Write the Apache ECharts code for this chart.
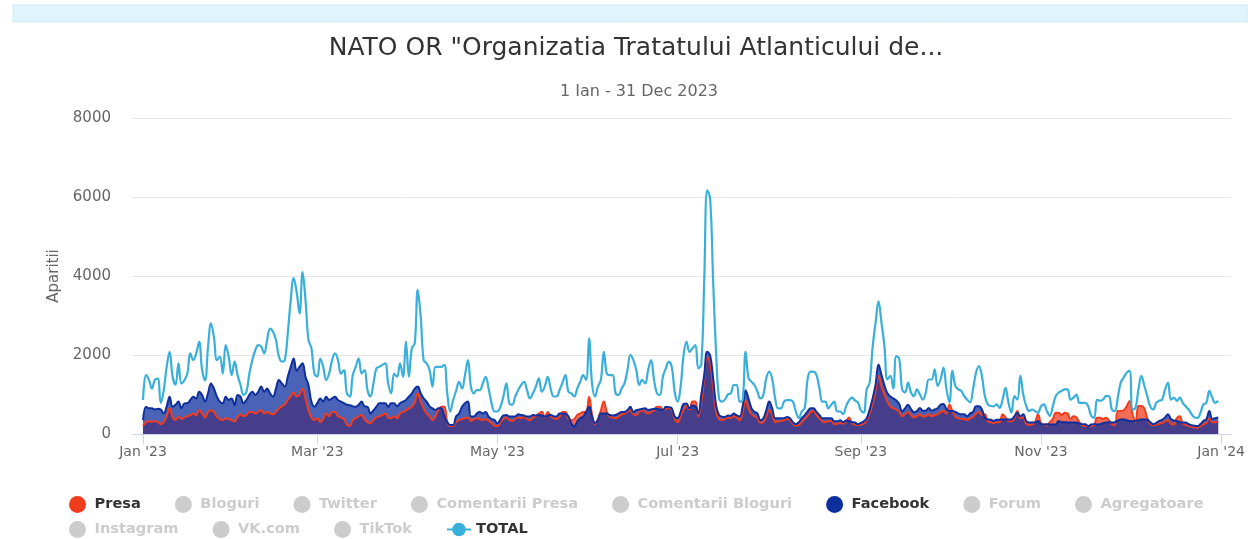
<!DOCTYPE html>
<html>
<head>
<meta charset="utf-8">
<title>NATO - aparitii 2023</title>
<script src="https://cdn.jsdelivr.net/npm/echarts@6/dist/echarts.min.js"></script>
<style>
  html, body { margin: 0; padding: 0; background: #fff; }
  #chart { width: 1248px; height: 539px; }
</style>
</head>
<body>
<div id="chart"></div>
<script>
// daily values, 1 Jan - 31 Dec 2023 (index 0 = 1 Jan)
const presa = [
  200,300,320,310,330,300,250,300,450,650,420,350,440,380,420,450,480,520,470,600,520,420,560,600,560,440,380,350,400,380,350,
  320,430,500,450,480,560,560,520,560,600,520,560,520,500,560,650,700,750,860,960,1050,950,1000,1150,900,600,420,350,
  400,300,380,520,450,560,560,450,420,380,240,200,350,400,450,480,380,300,280,350,420,450,480,520,420,400,450,400,520,560,600,
  650,690,800,1030,820,650,520,450,350,450,600,690,690,300,200,200,300,350,380,400,420,330,380,400,380,350,380,330,280,210,
  200,300,380,420,350,330,380,420,400,430,380,350,420,450,520,565,420,560,450,400,380,440,560,560,380,350,380,480,520,560,560,
  945,500,250,380,600,820,560,440,420,400,440,500,520,560,600,500,480,560,600,560,520,560,600,690,690,620,640,660,620,380,
  300,450,620,700,620,820,820,450,800,1400,1950,1800,1200,550,380,350,380,420,400,450,420,350,550,850,650,500,450,400,280,300,450,
  600,500,300,320,330,350,380,350,260,210,230,300,380,450,560,580,480,400,320,300,330,330,250,260,280,260,320,420,280,240,220,
  240,260,350,520,750,1100,1470,1200,1000,820,700,650,620,560,450,500,560,480,420,450,500,440,450,500,450,480,500,560,580,520,
  750,580,440,400,380,380,350,400,430,520,560,480,500,320,300,270,300,300,500,420,330,320,400,580,400,420,260,230,240,300,500,
  280,240,220,300,380,540,540,480,540,520,380,450,420,300,220,200,200,200,220,410,410,380,410,350,250,220,580,580,600,700,
  835,500,300,710,710,650,400,260,220,240,260,280,320,350,260,240,400,450,260,230,200,180,170,160,200,250,280,400,300,300,330
];
const facebook = [
  355,690,650,650,620,640,620,520,700,945,690,740,820,650,775,780,860,945,900,1070,990,820,1030,1280,1150,945,820,780,945,860,900,
  730,990,945,780,860,990,1070,990,1070,1200,1070,1150,1030,945,1150,1365,1280,1200,1450,1700,1910,1600,1700,1790,1450,1240,820,690,
  780,900,820,945,860,900,945,860,820,780,740,730,700,690,740,820,700,690,520,600,690,780,780,780,690,780,780,700,780,820,860,
  945,1030,1150,1200,1030,900,820,700,650,610,650,650,450,300,230,230,450,520,690,780,820,440,440,520,560,520,560,440,380,350,
  270,370,470,480,440,440,440,500,480,470,440,440,480,470,480,470,440,470,480,450,440,520,520,510,450,270,190,320,400,440,560,
  690,440,280,350,520,520,520,480,470,480,520,560,560,600,690,560,600,620,640,650,610,620,640,640,620,610,690,680,650,440,
  400,560,760,775,650,720,700,520,1000,1500,2080,1990,1420,730,480,440,430,470,460,520,470,440,700,1110,890,650,560,520,350,390,600,
  820,650,400,400,400,400,430,400,300,250,300,400,480,570,650,650,560,480,400,400,400,400,320,320,350,300,340,330,300,290,250,
  280,320,400,620,900,1250,1760,1500,1230,1030,950,900,850,760,570,650,740,630,550,580,660,590,590,660,590,620,650,740,760,630,
  580,580,560,520,500,500,450,520,560,700,700,620,410,370,360,330,360,360,370,370,370,370,450,540,450,500,330,290,290,290,330,
  250,240,250,240,240,240,330,300,300,290,290,290,290,260,250,250,200,240,250,240,250,270,290,300,290,300,340,370,370,350,
  330,320,330,350,370,370,360,300,250,280,330,360,420,500,380,340,330,300,290,290,250,220,210,200,250,330,370,580,380,400,420
];
const total = [
  860,1490,1370,1150,1370,1400,780,1100,1700,2080,1450,1250,1790,1280,1360,1530,2040,1870,2040,2330,1620,1360,2200,2800,2450,1870,1960,1530,2250,1960,1490,
  1830,1490,1240,990,1070,1530,1870,2120,2250,2210,2040,2380,2670,2590,2380,1960,1830,1870,2550,3390,3950,3600,3050,4100,3390,2380,2170,1530,
  1450,1910,1700,1370,1530,1870,2040,1870,1530,1620,1030,950,1490,1700,1910,1530,1620,1110,950,1280,1660,1700,1750,1790,1280,1030,1530,1450,1790,1450,2340,
  1450,2170,2300,3650,2970,1870,1790,1620,1200,1700,1700,1700,1750,1030,570,860,1100,1320,1150,1490,1870,1200,1030,1110,1110,1280,1450,1150,780,570,
  570,690,950,1280,780,740,950,1110,1240,1320,1110,900,1030,1200,1410,1070,1200,1450,1150,950,950,1110,1300,1490,1070,1030,950,1150,1320,1490,1370,
  2420,1280,950,1200,1370,2080,1530,1490,1490,1030,990,1150,1280,1620,2000,1870,1620,1240,1370,1280,1620,1870,1370,1030,990,1450,1660,1830,1700,1070,
  820,1200,2000,2335,2080,2170,2250,1660,1750,3900,6170,5950,3900,2080,900,820,870,1000,1030,1240,1240,820,860,2080,1410,1320,1240,1070,900,990,1410,
  1580,1400,900,650,650,820,860,860,820,570,400,570,650,1400,1580,1580,1490,1150,820,820,650,740,820,570,570,500,700,850,920,850,800,
  600,540,1130,1300,2200,2815,3360,2815,2225,1380,1470,1150,1970,1900,1130,1050,1300,1050,960,1130,1000,870,1050,1380,1380,1635,1220,1380,1680,1130,
  800,1600,1220,1130,1090,960,870,800,1130,1550,1720,1470,960,750,710,700,750,660,870,1170,790,540,960,870,1470,1000,710,580,620,580,540,
  700,750,580,460,700,960,1050,1090,1130,1130,870,920,1000,790,790,790,700,460,410,870,840,870,960,960,620,580,920,1300,1430,1550,
  1600,620,660,1130,1470,1220,960,700,620,790,840,870,1130,1300,870,920,840,920,790,700,620,500,420,410,540,750,790,1090,920,790,840
];

// x axis ticks (day index from 1 Jan 2023)
const tickDays = [0, 59, 120, 181, 243, 304, 365];
const tickLabels = ["Jan '23", "Mar '23", "May '23", "Jul '23", "Sep '23", "Nov '23", "Jan '24"];
const yTicks = [0, 2000, 4000, 6000, 8000];

const legendRow1 = ['Presa', 'Bloguri', 'Twitter', 'Comentarii Presa', 'Comentarii Bloguri', 'Facebook', 'Forum', 'Agregatoare'];
const legendRow2 = ['Instagram', 'VK.com', 'TikTok', 'TOTAL'];
const hiddenSeries = ['Bloguri', 'Twitter', 'Comentarii Presa', 'Comentarii Bloguri', 'Forum', 'Agregatoare', 'Instagram', 'VK.com', 'TikTok'];

const toPoints = arr => arr.map((v, i) => [i, v]);
const FONT = 'DejaVu Sans';

const selected = {};
hiddenSeries.forEach(n => { selected[n] = false });

const legendBase = {
  orient: 'horizontal',
  itemWidth: 24,
  itemHeight: 17,
  itemGap: 34,
  inactiveColor: '#cccccc',
  selected,
  textStyle: { fontFamily: FONT, fontSize: 14.6, fontWeight: 'bold', color: '#333' }
};

const chart = echarts.init(document.getElementById('chart'));

const option = {
  animation: false,
  graphic: [{
    type: 'rect',
    shape: { x: 13, y: 5, width: 1235, height: 17 },
    style: { fill: '#dff4fb', stroke: '#cdeef8' },
    silent: true
  }],
  title: [
    {
      text: 'NATO OR "Organizatia Tratatului Atlanticului de...',
      left: 631, top: 31, textAlign: 'center',
      textStyle: { fontFamily: FONT, fontSize: 25, fontWeight: 'normal', color: '#333' }
    },
    {
      text: '1 Ian - 31 Dec 2023',
      left: 634, top: 79, textAlign: 'center',
      textStyle: { fontFamily: FONT, fontSize: 16, fontWeight: 'normal', color: '#666' }
    }
  ],
  legend: [
    Object.assign({}, legendBase, {
      left: 64, top: 491,
      data: legendRow1.map(n => ({ name: n, icon: 'circle' }))
    }),
    Object.assign({}, legendBase, {
      left: 64, top: 516,
      data: legendRow2.map(n => n === 'TOTAL' ? { name: n } : { name: n, icon: 'circle' })
    })
  ],
  grid: { left: 133, right: 8, top: 118, bottom: 105, containLabel: false },
  xAxis: {
    type: 'value',
    min: -3.4,
    max: 368.4,
    splitLine: { show: false },
    axisLine: { show: true, lineStyle: { color: '#ccd6eb', width: 1 } },
    axisTick: { show: true, length: 10, lineStyle: { color: '#ccd6eb' }, customValues: tickDays },
    axisLabel: {
      customValues: tickDays,
      margin: 11,
      color: '#666', fontFamily: FONT, fontSize: 14,
      formatter: v => tickLabels[tickDays.indexOf(v)] || ''
    }
  },
  yAxis: {
    type: 'value',
    min: yTicks[0],
    max: yTicks[yTicks.length - 1],
    interval: 2000,
    name: 'Aparitii',
    nameLocation: 'middle',
    nameGap: 70,
    nameTextStyle: { color: '#666', fontFamily: FONT, fontSize: 15 },
    axisLine: { show: false },
    axisTick: { show: false },
    axisLabel: { color: '#666', fontFamily: FONT, fontSize: 15, margin: 22, formatter: v => String(v) },
    splitLine: { lineStyle: { color: '#e6e6e6' } }
  },
  series: [
    {
      name: 'Presa', type: 'line', data: toPoints(presa),
      smooth: 0.4, showSymbol: false, symbol: 'circle',
      color: '#f23c1e',
      lineStyle: { width: 2, color: '#f23c1e' },
      areaStyle: { color: '#f23c1e', opacity: 0.75 }
    },
    {
      name: 'Facebook', type: 'line', data: toPoints(facebook),
      smooth: 0.4, showSymbol: false, symbol: 'circle',
      color: '#0d2f9e',
      lineStyle: { width: 2, color: '#0d2f9e' },
      areaStyle: { color: '#0d2f9e', opacity: 0.75 }
    },
    {
      name: 'TOTAL', type: 'line', data: toPoints(total),
      smooth: 0.4, showSymbol: false, symbol: 'circle', symbolSize: 8,
      color: '#39afd9',
      lineStyle: { width: 2.2, color: '#39afd9' }
    }
  ].concat(hiddenSeries.map(n => ({ name: n, type: 'line', data: [], color: '#cccccc' })))
};

chart.setOption(option);
</script>
</body>
</html>
